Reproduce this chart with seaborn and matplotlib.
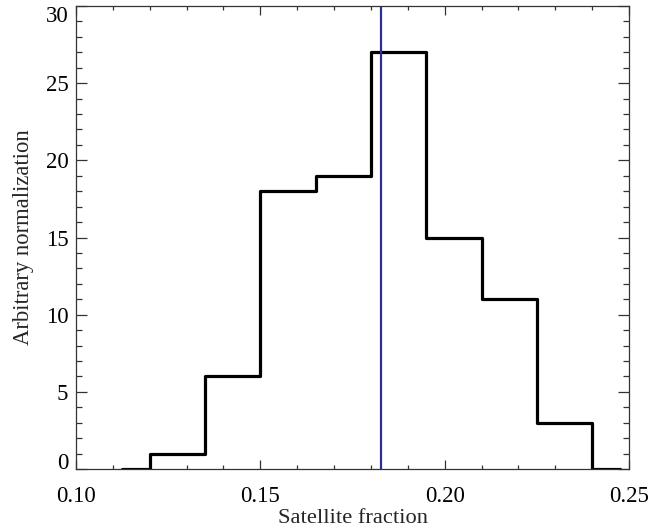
import matplotlib
matplotlib.use("Agg")
import matplotlib.pyplot as plt
import seaborn as sns
import pandas as pd
from matplotlib.ticker import MultipleLocator

# Histogram bin centers and heights (IDL psym=10 style)
bin_centers = [0.1125, 0.1275, 0.1425, 0.1575, 0.1725, 0.1875, 0.2025, 0.2175, 0.2325, 0.2475]
counts = [0, 1, 6, 18, 19, 27, 15, 11, 3, 0]
marker_value = 0.1828

x_ticks = [0.10, 0.15, 0.20, 0.25]
x_tick_labels = ["0.10", "0.15", "0.20", "0.25"]
y_ticks = [0, 5, 10, 15, 20, 25, 30]

sns.set_theme(style="ticks")
plt.rcParams["font.family"] = ["Liberation Serif", "DejaVu Serif"]

fig = plt.figure(figsize=(6.7, 5.27), dpi=100)
ax = fig.add_axes([76 / 670, 1 - 469 / 527, (629 - 76) / 670, (469 - 6) / 527])

df = pd.DataFrame({"x": bin_centers, "y": counts})
sns.lineplot(data=df, x="x", y="y", ax=ax, color="black", linewidth=2.3,
             drawstyle="steps-mid", estimator=None, sort=False)
ax.axvline(marker_value, color="#2B2F94", linewidth=1.6)

ax.set_xlim(0.10, 0.25)
ax.set_ylim(0, 30)
ax.set_xticks(x_ticks)
ax.set_xticklabels(x_tick_labels)
ax.set_yticks(y_ticks)
ax.xaxis.set_minor_locator(MultipleLocator(0.01))
ax.yaxis.set_minor_locator(MultipleLocator(1))

for s in ax.spines.values():
    s.set_visible(True)
    s.set_linewidth(0.9)
    s.set_color("#333333")

ax.tick_params(which="both", direction="in", top=True, right=True, color="#333333",
               labelsize=16.5, labelcolor="black")
ax.tick_params(axis="x", which="major", length=6.7, width=0.9, pad=12)
ax.tick_params(axis="x", which="minor", length=3, width=0.9)
ax.tick_params(axis="y", which="major", length=8, width=0.9, pad=5.5)
ax.tick_params(axis="y", which="minor", length=4, width=0.9)

ylabels = ax.get_yticklabels()
ylabels[0].set_va("baseline")
ylabels[-1].set_va("top")

ax.set_xlabel("Satellite fraction", fontsize=16.2, labelpad=2)
ax.set_ylabel("Arbitrary normalization", fontsize=16.3, labelpad=8)
ax.grid(False)

fig.savefig("out.png", dpi=100)
